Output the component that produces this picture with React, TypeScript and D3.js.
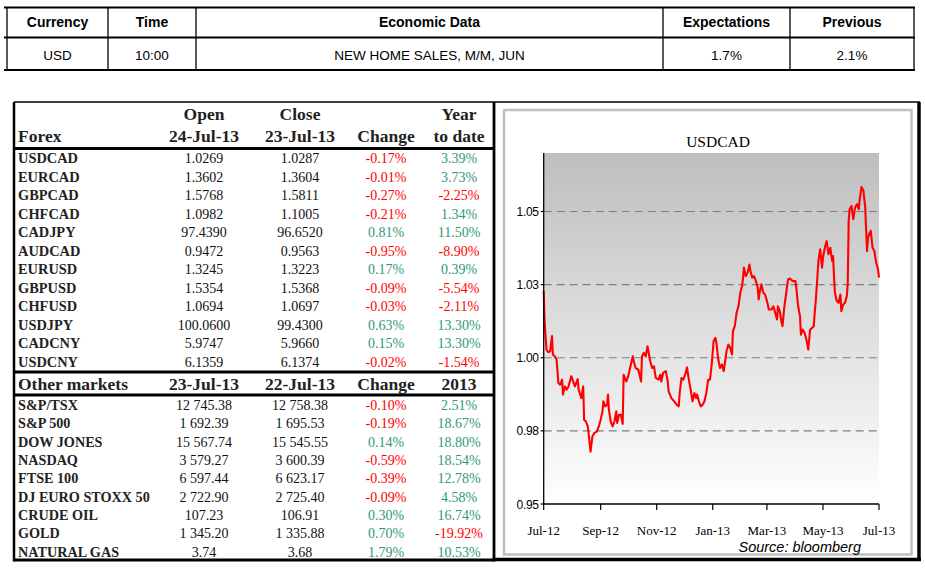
import React from "react";
import * as d3 from "d3";

// ---------- Top event table ----------
const eventHeaders = ["Currency", "Time", "Economic Data", "Expectations", "Previous"];
const eventRow = ["USD", "10:00", "NEW HOME SALES, M/M, JUN", "1.7%", "2.1%"];

// ---------- Forex table ----------
const forexHeaderTop = ["", "Open", "Close", "", "Year"];
const forexHeader = ["Forex", "24-Jul-13", "23-Jul-13", "Change", "to date"];
const forexNames = ["USDCAD", "EURCAD", "GBPCAD", "CHFCAD", "CADJPY", "AUDCAD", "EURUSD", "GBPUSD", "CHFUSD", "USDJPY", "CADCNY", "USDCNY"];
const forexOpen = [1.0269, 1.3602, 1.5768, 1.0982, 97.439, 0.9472, 1.3245, 1.5354, 1.0694, 100.06, 5.9747, 6.1359];
const forexClose = [1.0287, 1.3604, 1.5811, 1.1005, 96.652, 0.9563, 1.3223, 1.5368, 1.0697, 99.43, 5.966, 6.1374];
const forexChange = [-0.17, -0.01, -0.27, -0.21, 0.81, -0.95, 0.17, -0.09, -0.03, 0.63, 0.15, -0.02];
const forexYtd = [3.39, 3.73, -2.25, 1.34, 11.5, -8.9, 0.39, -5.54, -2.11, 13.3, 13.3, -1.54];

// ---------- Other markets table ----------
const marketHeader = ["Other markets", "23-Jul-13", "22-Jul-13", "Change", "2013"];
const marketNames = ["S&P/TSX", "S&P 500", "DOW JONES", "NASDAQ", "FTSE 100", "DJ EURO STOXX 50", "CRUDE OIL", "GOLD", "NATURAL GAS"];
const marketOpen = [12745.38, 1692.39, 15567.74, 3579.27, 6597.44, 2722.9, 107.23, 1345.2, 3.74];
const marketClose = [12758.38, 1695.53, 15545.55, 3600.39, 6623.17, 2725.4, 106.91, 1335.88, 3.68];
const marketChange = [-0.1, -0.19, 0.14, -0.59, -0.39, -0.09, 0.3, 0.7, 1.79];
const marketYtd = [2.51, 18.67, 18.8, 18.54, 12.78, 4.58, 16.74, -19.92, 10.53];

// ---------- USDCAD chart ----------
const chartTitle = "USDCAD";
const seriesStart = "2012-07-23";
const seriesEnd = "2013-07-23";
// days since series start
const usdcadDays = [
  0, 1, 3, 5, 7, 9, 10, 12, 14, 16,
  18, 20, 21, 23, 25, 27, 30, 32, 34, 37,
  38, 41, 43, 44, 46, 48, 49, 51, 53, 55,
  58, 60, 62, 64, 65, 67, 69, 70, 71, 73,
  75, 77, 79, 80, 82, 84, 86, 87, 89, 90,
  92, 94, 97, 98, 100, 103, 106, 107, 109, 111,
  113, 115, 116, 118, 120, 122, 125, 127, 128, 130,
  133, 135, 136, 139, 142, 145, 147, 148, 150, 152,
  154, 156, 158, 160, 162, 164, 166, 167, 169, 171,
  173, 175, 177, 179, 181, 183, 185, 187, 188, 190,
  192, 194, 196, 197, 199, 201, 203, 205, 206, 208,
  210, 212, 214, 216, 217, 218, 220, 222, 224, 225,
  227, 229, 231, 233, 234, 235, 237, 239, 241, 244,
  245, 248, 250, 252, 254, 255, 257, 259, 260, 262,
  264, 265, 266, 268, 271, 274, 275, 277, 279, 280,
  282, 284, 286, 288, 290, 292, 294, 295, 296, 298,
  299, 301, 303, 304, 306, 308, 310, 312, 314, 315,
  316, 317, 319, 321, 323, 324, 326, 328, 330, 331,
  332, 333, 335, 337, 339, 341, 343, 344, 346, 348,
  350, 351, 352, 353, 355, 356, 358, 360, 361, 362,
  364, 365,
];
const usdcadValues = [
  1.0228, 1.0119, 1.0028, 1.0019, 1.0022, 1.0074, 1.0011, 1.0005, 0.9994, 0.9914,
  0.9908, 0.9925, 0.9874, 0.9902, 0.9891, 0.9902, 0.9937, 0.9919, 0.9902, 0.9927,
  0.9891, 0.9862, 0.9902, 0.9788, 0.9782, 0.9765, 0.9737, 0.9679, 0.9731, 0.9742,
  0.9748, 0.9765, 0.9788, 0.9817, 0.9851, 0.9834, 0.9839, 0.9874, 0.9822, 0.9782,
  0.9765, 0.9782, 0.9817, 0.9777, 0.9805, 0.9805, 0.9774, 0.9942, 0.9925, 0.9919,
  0.9937, 0.9965, 1.0005, 0.9988, 0.9965, 0.9959, 0.9919, 1.0005, 1.0017, 1.0005,
  1.0039, 1.0005, 0.9988, 0.9965, 0.9971, 0.9931, 0.9925, 0.9942, 0.9919, 0.9948,
  0.9954, 0.9919, 0.9885, 0.9862, 0.9851, 0.9839, 0.9834, 0.9879, 0.9931, 0.9925,
  0.9942, 0.9967, 0.9925, 0.9891, 0.9851, 0.9879, 0.9862, 0.9874, 0.9851, 0.9834,
  0.9839, 0.9851, 0.9879, 0.9925, 0.9925, 0.9982, 1.0057, 1.0068, 1.0051, 0.9994,
  0.9965, 0.9977, 0.9954, 0.9977, 1.0022, 1.0045, 1.0034, 1.0011, 1.0091, 1.0108,
  1.0154, 1.0176, 1.0222, 1.0245, 1.0274, 1.0308, 1.0279, 1.0291, 1.0319, 1.0297,
  1.0274, 1.0279, 1.0262, 1.0239, 1.0199, 1.0222, 1.0251, 1.0222, 1.0216, 1.0182,
  1.0165, 1.0165, 1.0176, 1.0154, 1.0131, 1.0176, 1.0159, 1.0119, 1.0108, 1.0176,
  1.0222, 1.0245, 1.0268, 1.0271, 1.0262, 1.0262, 1.0239, 1.0176, 1.0142, 1.0079,
  1.0096, 1.0085, 1.0062, 1.0028, 1.0096, 1.0102, 1.0108, 1.0154, 1.0188, 1.0279,
  1.0331, 1.0371, 1.0308, 1.0342, 1.0376, 1.0399, 1.0354, 1.0376, 1.0331, 1.0348,
  1.0279, 1.0222, 1.0194, 1.0188, 1.0216, 1.0159, 1.0182, 1.0188, 1.0211, 1.0256,
  1.0468, 1.0508, 1.0519, 1.0474, 1.0514, 1.0525, 1.0508, 1.0542, 1.0584, 1.0571,
  1.0514, 1.0434, 1.0365, 1.0411, 1.0428, 1.0434, 1.0376, 1.0365, 1.0342, 1.0325,
  1.0302, 1.0274,
];
const yTickValues = [0.95, 0.975, 1.0, 1.025, 1.05];
const yTickLabels = ["0.95", "0.98", "1.00", "1.03", "1.05"];
const yDomain = [0.95, 1.07];
const sourceText = "Source: bloomberg";

const SERIF = "'Liberation Serif', 'Times New Roman', serif";
const SANS = "'Liberation Sans', Arial, sans-serif";
const RED = "#ff0000";
const GREEN = "#2f9a78";

const loc = d3.formatLocale({ decimal: ".", thousands: " ", grouping: [3], currency: ["", ""], minus: "-" });
const fmt4 = loc.format(".4f");
const fmtMkt = loc.format(",.2f");
const fmtPct = (v: number) => loc.format(".2f")(v) + "%";

export default function App() {
  // ---- top table geometry
  const tCols = [7, 108, 196, 663, 790, 914];
  const tCenters = tCols.slice(0, -1).map((c, i) => (c + tCols[i + 1]) / 2);

  // ---- main table geometry
  const tbL = 14, tbR = 494, tbT = 102, tbB = 560;
  const colX = [18, 204, 300, 386, 459];
  const forexRowY = (i: number) => 163.3 + i * 18.5;
  const mktRowY = (i: number) => 410 + i * 18.35;

  // ---- chart geometry
  const x = d3.scaleUtc()
    .domain([new Date(seriesStart + "T00:00:00Z"), new Date(seriesEnd + "T00:00:00Z")])
    .range([543.7, 879]);
  const y = d3.scaleLinear().domain(yDomain).range([504, 153]);
  const start = new Date(seriesStart + "T00:00:00Z");
  const data = usdcadDays.map((d, i) => ({ date: d3.utcDay.offset(start, d), v: usdcadValues[i] }));
  const line = d3.line<{ date: Date; v: number }>().x((d) => x(d.date)).y((d) => y(d.v));
  const xTicks = d3.range(7).map((i) => {
    const t = d3.utcMonth.offset(start, 2 * i);
    return t > x.domain()[1] ? x.domain()[1] : t;
  });
  const xFmt = d3.utcFormat("%b-%y");
  const [x0, x1] = x.range();
  const [yb, yt] = y.range();

  const valColor = (v: number) => (v < 0 ? RED : GREEN);

  return (
    <svg width={925} height={568} style={{ position: "absolute", left: 0, top: 0, background: "#fff" }}>
      <defs>
        <linearGradient id="plotGrad" x1="0" y1="0" x2="0" y2="1">
          <stop offset="0%" stopColor="#bebebe" />
          <stop offset="100%" stopColor="#ffffff" />
        </linearGradient>
      </defs>
      <rect x={0} y={0} width={925} height={568} fill="#fff" />

      {/* ===== top event table ===== */}
      {[7.5, 37.5, 70].map((ly, i) => (
        <line key={"th" + i} x1={4} x2={tCols[5] + 1} y1={ly} y2={ly} stroke="#000" strokeWidth={2} />
      ))}
      {tCols.map((cx, i) => (
        <line key={"tv" + i} x1={cx} x2={cx} y1={7} y2={70.5} stroke="#000" strokeWidth={1.3} />
      ))}
      {eventHeaders.map((h, i) => (
        <text key={"eh" + i} x={tCenters[i]} y={27} textAnchor="middle" fontFamily={SANS} fontWeight="bold" fontSize={14} fill="#000">{h}</text>
      ))}
      {eventRow.map((h, i) => (
        <text key={"er" + i} x={tCenters[i]} y={60} textAnchor="middle" fontFamily={SANS} fontSize={13.5} fill="#000">{h}</text>
      ))}

      {/* ===== main table ===== */}
      <line x1={tbL} x2={920} y1={tbT} y2={tbT} stroke="#000" strokeWidth={1.5} />
      <line x1={tbL} x2={tbL} y1={tbT} y2={tbB + 1.5} stroke="#000" strokeWidth={2.5} />
      <line x1={tbR} x2={tbR} y1={tbT} y2={tbB + 1.5} stroke="#000" strokeWidth={2.8} />
      <line x1={tbL} x2={tbR} y1={tbB} y2={tbB} stroke="#000" strokeWidth={3} />
      <line x1={tbL} x2={tbR} y1={148.5} y2={148.5} stroke="#000" strokeWidth={3} />
      <line x1={tbL} x2={tbR} y1={372} y2={372} stroke="#000" strokeWidth={3} />
      <line x1={tbL} x2={tbR} y1={395} y2={395} stroke="#000" strokeWidth={3} />

      {forexHeaderTop.map((h, i) => h ? (
        <text key={"fht" + i} x={colX[i]} y={120} textAnchor="middle" fontFamily={SERIF} fontWeight="bold" fontSize={17.5} fill="#222">{h}</text>
      ) : null)}
      {forexHeader.map((h, i) => (
        <text key={"fh" + i} x={colX[i]} y={141.7} textAnchor={i === 0 ? "start" : "middle"} fontFamily={SERIF} fontWeight="bold" fontSize={17.5} fill="#222">{h}</text>
      ))}
      {forexNames.map((n, i) => (
        <g key={"fr" + i}>
          <text x={colX[0]} y={forexRowY(i)} fontFamily={SERIF} fontWeight="bold" fontSize={14.4} fill="#222">{n}</text>
          <text x={colX[1]} y={forexRowY(i)} textAnchor="middle" fontFamily={SERIF} fontSize={14} fill="#111">{fmt4(forexOpen[i])}</text>
          <text x={colX[2]} y={forexRowY(i)} textAnchor="middle" fontFamily={SERIF} fontSize={14} fill="#111">{fmt4(forexClose[i])}</text>
          <text x={colX[3]} y={forexRowY(i)} textAnchor="middle" fontFamily={SERIF} fontSize={14} fill={valColor(forexChange[i])}>{fmtPct(forexChange[i])}</text>
          <text x={colX[4]} y={forexRowY(i)} textAnchor="middle" fontFamily={SERIF} fontSize={14} fill={valColor(forexYtd[i])}>{fmtPct(forexYtd[i])}</text>
        </g>
      ))}

      {marketHeader.map((h, i) => (
        <text key={"mh" + i} x={colX[i]} y={390} textAnchor={i === 0 ? "start" : "middle"} fontFamily={SERIF} fontWeight="bold" fontSize={17.5} fill="#222">{h}</text>
      ))}
      {marketNames.map((n, i) => (
        <g key={"mr" + i}>
          <text x={colX[0]} y={mktRowY(i)} fontFamily={SERIF} fontWeight="bold" fontSize={14.2} fill="#222">{n}</text>
          <text x={colX[1]} y={mktRowY(i)} textAnchor="middle" fontFamily={SERIF} fontSize={14} fill="#111">{fmtMkt(marketOpen[i])}</text>
          <text x={colX[2]} y={mktRowY(i)} textAnchor="middle" fontFamily={SERIF} fontSize={14} fill="#111">{fmtMkt(marketClose[i])}</text>
          <text x={colX[3]} y={mktRowY(i)} textAnchor="middle" fontFamily={SERIF} fontSize={14} fill={valColor(marketChange[i])}>{fmtPct(marketChange[i])}</text>
          <text x={colX[4]} y={mktRowY(i)} textAnchor="middle" fontFamily={SERIF} fontSize={14} fill={valColor(marketYtd[i])}>{fmtPct(marketYtd[i])}</text>
        </g>
      ))}

      {/* ===== chart panel ===== */}
      <line x1={919} x2={919} y1={tbT} y2={561} stroke="#000" strokeWidth={3.5} />
      <line x1={tbR} x2={921} y1={559.5} y2={559.5} stroke="#000" strokeWidth={3.5} />
      <rect x={504} y={110} width={407.5} height={444.5} fill="#fff" stroke="#c0c0c0" strokeWidth={2.5} />

      <text x={718} y={146.5} textAnchor="middle" fontFamily={SERIF} fontSize={15.5} fill="#000">{chartTitle}</text>

      <rect x={x0} y={yt} width={x1 - x0} height={yb - yt} fill="url(#plotGrad)" />
      {yTickValues.filter((v) => v !== yDomain[0]).map((v, i) => (
        <line key={"g" + i} x1={x0} x2={x1} y1={y(v)} y2={y(v)} stroke="#7f7f7f" strokeWidth={1.2} strokeDasharray="8,5" />
      ))}

      <path d={line(data) || ""} fill="none" stroke={RED} strokeWidth={2.1} strokeLinejoin="round" />

      <line x1={x0} x2={x0} y1={yt} y2={yb} stroke="#000" strokeWidth={1.3} />
      <line x1={x0} x2={x1} y1={yb} y2={yb} stroke="#000" strokeWidth={1.3} />
      {yTickValues.map((v, i) => (
        <g key={"yt" + i}>
          <line x1={x0 - 3} x2={x0} y1={y(v)} y2={y(v)} stroke="#000" strokeWidth={1.2} />
          <text x={x0 - 5} y={y(v) + 4.5} textAnchor="end" fontFamily={SANS} fontSize={12} letterSpacing={-0.3} fill="#000">{yTickLabels[i]}</text>
        </g>
      ))}
      {xTicks.map((t, i) => (
        <g key={"xt" + i}>
          <line x1={x(t)} x2={x(t)} y1={yb} y2={yb + 6} stroke="#000" strokeWidth={1.2} />
          <text x={x(t)} y={535} textAnchor="middle" fontFamily={SERIF} fontSize={13} fill="#000">{xFmt(t)}</text>
        </g>
      ))}
      <text x={861} y={551.5} textAnchor="end" fontFamily={SANS} fontStyle="italic" fontSize={14.5} fill="#000">{sourceText}</text>
    </svg>
  );
}
